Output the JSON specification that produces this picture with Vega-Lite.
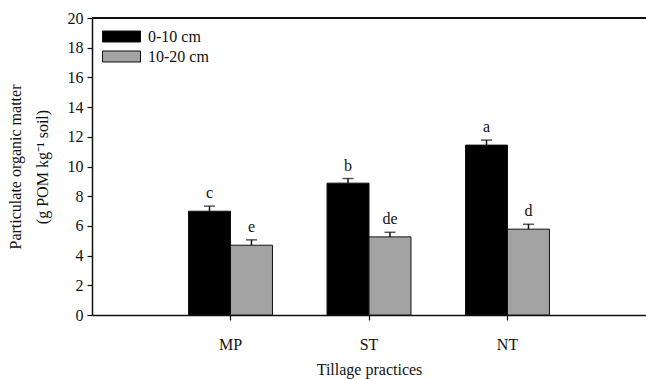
{
  "$schema": "https://vega.github.io/schema/vega-lite/v6.json",
  "width": 554,
  "height": 297,
  "autosize": {"type": "none"},
  "padding": {"left": 92, "top": 18, "right": 0, "bottom": 64},
  "background": "white",
  "config": {
    "view": {"stroke": null},
    "font": "Liberation Serif",
    "axis": {"labelFont": "Liberation Serif", "titleFont": "Liberation Serif", "labelFontSize": 16, "titleFontSize": 16, "titleFontWeight": "normal", "labelColor": "#111", "titleColor": "#111", "domainColor": "#111", "tickColor": "#111", "grid": false, "domainWidth": 1.5, "tickWidth": 1.2},
    "axisY": {"tickCount": 10, "tickSize": 5, "labelPadding": 4, "titlePadding": 17, "titleLineHeight": 27}
  },
  "data": {
    "values": [
      {"tillage": "MP", "depth": "0-10 cm", "mean": 6.99, "upper": 7.33, "letter": "c"},
      {"tillage": "MP", "depth": "10-20 cm", "mean": 4.70, "upper": 5.06, "letter": "e"},
      {"tillage": "ST", "depth": "0-10 cm", "mean": 8.88, "upper": 9.19, "letter": "b"},
      {"tillage": "ST", "depth": "10-20 cm", "mean": 5.26, "upper": 5.57, "letter": "de"},
      {"tillage": "NT", "depth": "0-10 cm", "mean": 11.44, "upper": 11.78, "letter": "a"},
      {"tillage": "NT", "depth": "10-20 cm", "mean": 5.78, "upper": 6.11, "letter": "d"}
    ]
  },
  "layer": [
    {
      "mark": {"type": "bar", "stroke": "#111", "strokeWidth": 1},
      "encoding": {
        "x": {
          "field": "tillage", "type": "nominal", "sort": ["MP", "ST", "NT"],
          "scale": {"paddingInner": 0, "paddingOuter": 0.5},
          "axis": {"title": "Tillage practices", "labelAngle": 0, "tickSize": 5, "labelPadding": 16, "titlePadding": 9}
        },
        "xOffset": {"field": "depth", "type": "nominal", "sort": ["0-10 cm", "10-20 cm"], "scale": {"paddingInner": 0, "paddingOuter": 0.65}},
        "y": {
          "field": "mean", "type": "quantitative",
          "scale": {"domain": [0, 20], "nice": false},
          "axis": {"title": ["Particulate organic matter", "(g POM kg⁻¹ soil)"]}
        },
        "color": {
          "field": "depth", "type": "nominal", "sort": ["0-10 cm", "10-20 cm"],
          "scale": {"range": ["#000000", "#a3a3a3"]},
          "legend": {
            "title": null, "orient": "none", "legendX": 19, "legendY": 8,
            "symbolType": "M-1.9,-0.55H1.9V0.55H-1.9Z", "symbolSize": 400,
            "symbolStrokeColor": "#111", "symbolStrokeWidth": 1,
            "labelFont": "Liberation Serif", "labelFontSize": 16, "labelColor": "#111",
            "labelOffset": 16, "rowPadding": 1
          }
        }
      }
    },
    {
      "mark": {"type": "rule", "color": "#111", "strokeWidth": 1.5},
      "encoding": {
        "x": {"field": "tillage", "type": "nominal", "sort": ["MP", "ST", "NT"]},
        "xOffset": {"field": "depth", "type": "nominal", "sort": ["0-10 cm", "10-20 cm"]},
        "y": {"field": "mean", "type": "quantitative"},
        "y2": {"field": "upper"}
      }
    },
    {
      "mark": {"type": "tick", "color": "#111", "size": 11, "thickness": 1.5},
      "encoding": {
        "x": {"field": "tillage", "type": "nominal", "sort": ["MP", "ST", "NT"]},
        "xOffset": {"field": "depth", "type": "nominal", "sort": ["0-10 cm", "10-20 cm"]},
        "y": {"field": "upper", "type": "quantitative"}
      }
    },
    {
      "mark": {"type": "text", "font": "Liberation Serif", "fontSize": 16, "fill": "#111", "baseline": "bottom", "dy": -5},
      "encoding": {
        "x": {"field": "tillage", "type": "nominal", "sort": ["MP", "ST", "NT"]},
        "xOffset": {"field": "depth", "type": "nominal", "sort": ["0-10 cm", "10-20 cm"]},
        "y": {"field": "upper", "type": "quantitative"},
        "text": {"field": "letter"}
      }
    },
    {
      "mark": {"type": "rule", "color": "#111", "strokeWidth": 1.5},
      "encoding": {"y": {"datum": 20}}
    }
  ]
}
